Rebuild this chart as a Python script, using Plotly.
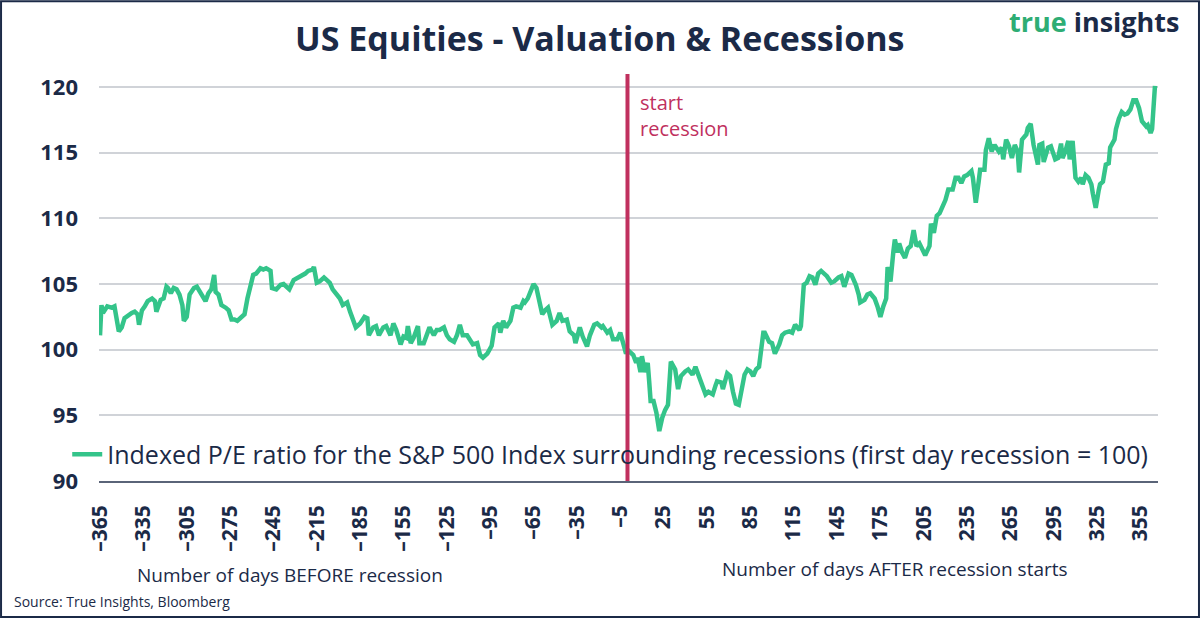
import plotly.graph_objects as go

# ---- data ----
days_before = [-365, -364, -363, -360, -357, -355, -352, -350, -348, -345, -343, -341, -339, -338,
               -336, -334, -332, -329, -327, -326, -323, -321, -319, -318, -316, -314, -312, -310,
               -308, -307, -305, -303, -300, -298, -296, -293, -292, -290, -288, -286, -285, -283,
               -281, -278, -276, -274, -272, -270, -267, -265, -263, -261, -259, -257, -254, -252,
               -250, -247, -246, -243, -240, -238, -236, -234, -231, -228, -225, -223, -221, -218,
               -217, -215, -213, -210, -208, -206, -204, -201, -199, -197, -194, -192, -190, -188,
               -185, -182, -180, -179, -176, -174, -172, -169, -167, -164, -162, -160, -157, -155,
               -153, -152, -150, -148, -145, -144, -141, -139, -137, -134, -132, -130, -127, -125,
               -123, -120, -118, -116, -114, -111, -109, -107, -104, -102, -100, -97, -94, -92, -89,
               -88, -86, -84, -81, -79, -77, -74, -72, -71, -69, -66, -65, -63, -60, -59, -57, -55,
               -52, -49, -47, -45, -42, -40, -37, -36, -33, -31, -28, -26, -23, -21, -18, -17, -14,
               -12, -10, -7, -5, -3, -1]
pe_before = [101.1, 103.4, 102.8, 103.3, 103.2, 103.3, 101.4, 101.7, 102.4, 102.7, 102.8, 102.9, 102.7, 101.9,
             103.0, 103.3, 103.7, 103.9, 103.7, 102.9, 103.8, 103.9, 104.8, 104.7, 104.3, 104.7, 104.6, 104.2,
             103.4, 102.2, 102.5, 104.2, 104.7, 104.8, 104.4, 103.8, 103.7, 104.3, 104.6, 105.7, 104.4, 104.2,
             103.4, 103.2, 103.0, 102.3, 102.3, 102.2, 102.5, 102.7, 103.9, 104.95, 105.7, 105.8, 106.2, 106.1,
             106.2, 106.0, 104.7, 104.6, 104.95, 105.0, 104.8, 104.6, 105.3, 105.5, 105.6, 105.8, 106.0, 106.1,
             106.3, 105.1, 105.2, 105.5, 105.3, 105.1, 104.6, 104.2, 103.9, 103.4, 103.6, 102.9, 102.2, 101.7,
             102.0, 102.5, 102.4, 101.1, 101.7, 101.8, 101.1, 101.7, 101.8, 101.1, 102.0, 101.5, 100.4, 101.0,
             100.9, 101.8, 100.5, 100.9, 101.8, 100.5, 100.5, 101.1, 101.7, 101.1, 101.5, 101.5, 101.7, 101.1,
             100.8, 100.6, 101.1, 101.9, 101.1, 101.1, 100.8, 100.4, 100.5, 99.6, 99.4, 99.7, 100.3, 101.7, 102.0,
             101.3, 102.2, 101.7, 102.2, 103.2, 103.3, 103.2, 103.7, 103.6, 103.9, 104.7, 105.0, 104.7, 103.4, 102.7, 103.0, 103.2,
             101.9, 102.2, 102.8, 102.2, 102.3, 101.4, 101.1, 100.5, 101.7, 101.0, 100.25, 101.1, 101.9, 102.0, 101.7, 101.8, 101.3,
             101.5, 100.8, 100.8, 101.3, 100.5, 99.7]

days_after = [0, 4, 6, 7, 9, 10, 12, 14, 15, 16, 18, 20, 22, 24, 26, 28, 30, 33, 35, 37, 40, 42, 45, 47, 49,
              52, 54, 56, 59, 61, 62, 65, 66, 69, 71, 73, 75, 77, 79, 81, 83, 85, 87, 89, 91, 94, 95, 98,
              100, 102, 105, 107, 109, 112, 114, 116, 119, 120, 122, 124, 126, 128, 130, 132, 134, 138,
              141, 143, 146, 148, 150, 153, 155, 158, 160, 161, 164, 166, 168, 171, 173, 175, 177, 179,
              180, 182, 184, 185, 187, 188, 190, 192, 194, 196, 198, 200, 202, 204, 206, 209, 210, 212,
              214, 216, 218, 220, 222, 225, 227, 229, 231, 233, 235, 238, 239, 241, 243, 244, 247, 248,
              250, 252, 254, 257, 259, 260, 262, 264, 266, 268, 270, 271, 273, 276, 277, 279, 281, 284,
              285, 287, 288, 291, 293, 295, 296, 298, 300, 301, 303, 305, 306, 308, 310, 312, 314, 315,
              317, 319, 321, 322, 324, 326, 327, 329, 331, 333, 334, 337, 338, 340, 342, 344, 346, 348,
              350, 352, 354, 356, 359, 360, 362, 363, 365]
pe_after = [100.0, 99.6, 99.0, 99.4, 98.3, 99.5, 98.3, 99.0, 97.6, 96.1, 96.1, 95.2, 93.8, 94.8, 95.4, 95.8,
            99.1, 98.5, 97.0, 98.0, 98.35, 98.5, 98.1, 98.7, 98.1, 97.2, 96.6, 96.8, 96.6, 97.3, 97.6, 97.5,
            97.0, 98.2, 98.0, 96.8, 95.9, 95.8, 97.1, 98.1, 98.5, 98.35, 98.0, 98.5, 98.7, 101.3, 101.3, 100.6,
            100.5, 99.7, 100.4, 101.1, 101.3, 101.4, 101.3, 101.9, 101.5, 101.8, 104.95, 105.1, 105.6, 105.5,
            104.95, 105.8, 106.0, 105.6, 105.1, 105.2, 105.5, 105.6, 104.8, 105.8, 105.7, 104.95, 104.2, 103.6,
            103.8, 104.2, 104.3, 103.9, 103.3, 102.5, 103.3, 103.9, 106.3, 105.2, 107.5, 108.4, 107.4, 108.1,
            107.4, 107.0, 107.7, 107.9, 109.1, 107.9, 108.1, 107.7, 107.2, 107.9, 109.6, 108.9, 110.2, 110.4,
            110.9, 111.4, 112.2, 112.2, 113.1, 113.1, 112.7, 113.2, 113.3, 113.6, 113.1, 111.2, 112.8, 113.7,
            113.7, 115.2, 116.1, 115.1, 115.6, 115.1, 115.4, 114.5, 116.0, 115.5, 114.6, 115.6, 115.1, 113.5,
            116.0, 116.4, 116.9, 117.2, 115.6, 114.1, 115.6, 115.7, 114.3, 115.4, 115.5, 114.7, 114.5, 114.6,
            115.7, 114.6, 115.1, 115.9, 114.5, 115.9, 113.1, 112.8, 113.1, 112.6, 113.3, 113.1, 112.6, 111.9,
            110.8, 112.1, 112.6, 112.8, 114.1, 114.2, 115.4, 116.0, 116.8, 117.6, 118.1, 117.9, 118.0, 118.3,
            119.0, 119.0, 118.4, 117.4, 117.0, 117.1, 116.5, 116.8, 120.1]

days = days_before + days_after
pe = pe_before + pe_after

x_tick_vals = list(range(-365, 366, 30))
x_tick_text = [str(v).replace("-", "\u2013") for v in x_tick_vals]
y_tick_vals = [90, 95, 100, 105, 110, 115, 120]
series_name = "Indexed P/E ratio for the S&P 500 Index surrounding recessions (first day recession = 100)"
recession_day = 0

NAVY = "#1B2A47"
GREEN = "#34C48A"
RED = "#C0305E"
FONT = "Open Sans"

fig = go.Figure()
fig.add_trace(go.Scatter(x=days, y=pe, mode="lines", name=series_name,
                         line=dict(color=GREEN, width=4.5), showlegend=True))

fig.add_shape(type="line", x0=recession_day, x1=recession_day, xref="x", y0=0, y1=1, yref="paper",
              line=dict(color=RED, width=4), layer="above")

# frame around the whole image
fig.add_shape(type="rect", xref="paper", yref="paper", x0=-0.0925, x1=1.0387, y0=-0.334, y1=1.179,
              line=dict(color=NAVY, width=2), fillcolor="rgba(0,0,0,0)")

anns = [
    dict(text="US Equities - Valuation & Recessions", x=0.473, y=1.0885, font=dict(size=34, color=NAVY, family=FONT, weight="bold"),
         xanchor="center", yanchor="middle"),
    dict(text="<span style='color:#2EAD74'>true</span> insights", x=0.9405, y=1.128,
         font=dict(size=27, color=NAVY, family=FONT, weight="bold"), xanchor="center", yanchor="middle"),
    dict(text="start<br>recession", x=7, xref="x", y=0.968, align="left",
         font=dict(size=20, color=RED, family=FONT), xanchor="left", yanchor="top"),
    dict(text="Number of days BEFORE recession", x=0.180, y=-0.231, font=dict(size=19, color=NAVY, family=FONT),
         xanchor="center", yanchor="middle"),
    dict(text="Number of days AFTER recession starts", x=0.752, y=-0.216, font=dict(size=19, color=NAVY, family=FONT),
         xanchor="center", yanchor="middle"),
    dict(text="Source: True Insights, Bloomberg", x=-0.0822, y=-0.295, font=dict(size=14, color=NAVY, family=FONT),
         xanchor="left", yanchor="middle"),
]
for a in anns:
    a.setdefault("xref", "paper")
    a.setdefault("yref", "paper")
    a["showarrow"] = False
    fig.add_annotation(**a)

fig.update_layout(
    width=1200, height=618,
    margin=dict(l=99, r=42, t=74, b=137),
    paper_bgcolor="white", plot_bgcolor="white",
    font=dict(family=FONT, color=NAVY),
    legend=dict(x=-0.03, y=0.065, xanchor="left", yanchor="middle", bgcolor="rgba(0,0,0,0)",
                font=dict(size=25, color=NAVY, family=FONT), itemwidth=30),
    xaxis=dict(range=[-365.7, 367.1], tickmode="array", tickvals=x_tick_vals, ticktext=x_tick_text,
               tickangle=-90, tickfont=dict(size=21, color=NAVY, family=FONT, weight="bold"),
               showgrid=False, zeroline=False, showline=True, linecolor="#5A6478", linewidth=1.5,
               ticks="", ticklabelstandoff=14),
    yaxis=dict(range=[90, 121], tickmode="array", tickvals=y_tick_vals,
               tickfont=dict(size=22, color=NAVY, family=FONT, weight="bold"),
               showgrid=True, gridcolor="#D0D3D8", gridwidth=1.5, zeroline=False, showline=False,
               ticks="", ticklabelstandoff=20),
)

fig.write_html("out.html", config={"displayModeBar": False},
               post_script="document.body.style.margin='0';")
